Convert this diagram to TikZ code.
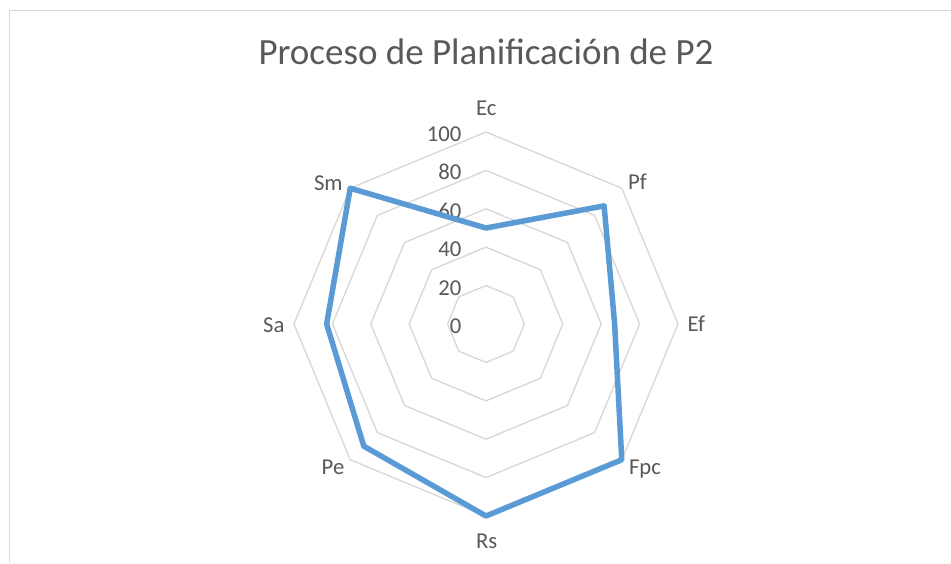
\documentclass[tikz,border=0pt]{standalone}
\usepackage{fontspec}
\setmainfont{Carlito}
\definecolor{gridgray}{HTML}{D9D9D9}
\definecolor{textgray}{HTML}{595959}
\definecolor{serieblue}{HTML}{5B9BD5}
\tikzset{
  frameline/.style={draw=gridgray, line width=1.5pt},
  ringline/.style={draw=gridgray, line width=1.4pt, line join=miter},
  dataline/.style={draw=serieblue, line width=5.5pt, line join=round},
  axislabel/.style={text=textgray, font=\fontsize{22.7}{27}\selectfont, inner sep=0pt, anchor=base},
  ticklabel/.style={text=textgray, font=\fontsize{22.7}{27}\selectfont, inner sep=0pt, anchor=base east},
  charttitle/.style={text=textgray, font=\fontsize{37}{44}\selectfont, inner sep=0pt, anchor=base}
}
\begin{document}
\begin{tikzpicture}[x=1pt,y=1pt]
\useasboundingbox (0,0) rectangle (951,563);
\fill[white] (0,0) rectangle (951,563);
\draw[frameline] (9.5,0) -- (9.5,552.5) -- (951,552.5);
\node[charttitle] (title) at (486,498) {Proceso de Planificación de P2};
\begin{scope}[shift={(486,239)}]
  \coordinate (c) at (0,0);
  \foreach \v in {20,40,60,80,100} {
    \pgfmathsetmacro{\R}{\v*1.92}
    \draw[ringline] (90:\R) -- (45:\R) -- (0:\R) -- (-45:\R) -- (-90:\R) -- (-135:\R) -- (180:\R) -- (135:\R) -- cycle;
  }
  \foreach \v in {0,20,40,60,80,100} {
    \node[ticklabel] (t\v) at (-24.5,{\v*1.92-9.6}) {\v};
  }
  % data points
  \coordinate (dEc) at (90:{50*1.92});
  \coordinate (dPf) at (45:{87*1.92});
  \coordinate (dEf) at (0:{67*1.92});
  \coordinate (dFpc) at (-45:{100*1.92});
  \coordinate (dRs) at (-90:{100*1.92});
  \coordinate (dPe) at (-135:{90*1.92});
  \coordinate (dSa) at (180:{83*1.92});
  \coordinate (dSm) at (135:{100*1.92});
  \draw[dataline] (dEc) -- (dPf) -- (dEf) -- (dFpc) -- (dRs) -- (dPe) -- (dSa) -- (dSm) -- cycle;
\end{scope}
\node[axislabel] (lEc) at (486.3,447) {Ec};
\node[axislabel] (lPf) at (637.5,373) {Pf};
\node[axislabel] (lEf) at (696.3,231.3) {Ef};
\node[axislabel] (lFpc) at (645,89) {Fpc};
\node[axislabel] (lRs) at (486.7,14.7) {Rs};
\node[axislabel] (lPe) at (333,89) {Pe};
\node[axislabel] (lSa) at (273.8,230.3) {Sa};
\node[axislabel] (lSm) at (328.3,372) {Sm};
\end{tikzpicture}
\end{document}
